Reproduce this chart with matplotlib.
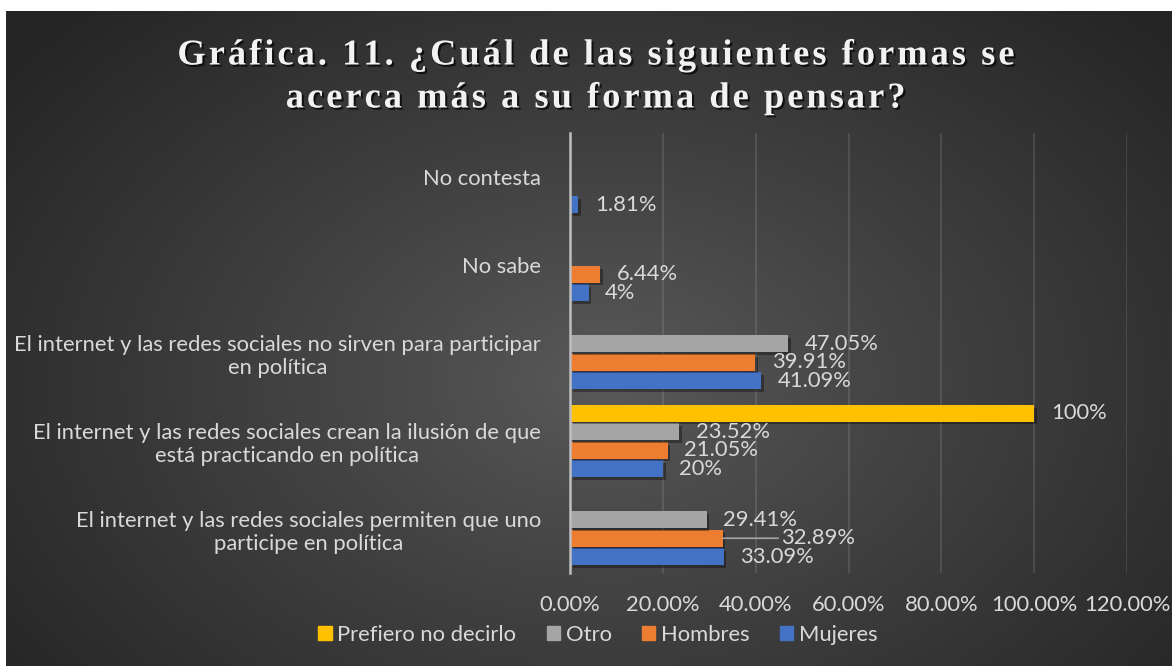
import numpy as np
import matplotlib
matplotlib.use("Agg")
import matplotlib.pyplot as plt
import matplotlib.patheffects as pe
from matplotlib.patches import Patch

# --- data ---
categories = [
    "El internet y las redes sociales permiten que uno\nparticipe en política",
    "El internet y las redes sociales crean la ilusión de que\nestá practicando en política",
    "El internet y las redes sociales no sirven para participar\nen política",
    "No sabe",
    "No contesta",
]
series_names = ["Mujeres", "Hombres", "Otro", "Prefiero no decirlo"]
mujeres = [33.09, 20, 41.09, 4, 1.81]
hombres = [32.89, 21.05, 39.91, 6.44, np.nan]
otro = [29.41, 23.52, 47.05, np.nan, np.nan]
prefiero = [np.nan, 100, np.nan, np.nan, np.nan]
x_ticks = [0, 20, 40, 60, 80, 100, 120]

title_lines = ["Gráfica. 11. ¿Cuál de las siguientes formas se",
               "acerca más a su forma de pensar?"]

# --- style ---
COLORS = ["#4472C4", "#ED7D31", "#A5A5A5", "#FFC000"]
TEXT = "#d9d9d9"
FONT = "Lato"
FS = 15.8
W, H = 1172, 666


def spaced(s):
    # fake Excel's expanded letter spacing with hair spaces
    return "\u200a".join(s)


fig = plt.figure(figsize=(W / 100, H / 100), dpi=100)
fig.patch.set_facecolor("white")

# radial gradient background
bg = fig.add_axes([6 / W, 0, 1 - 6 / W, 1 - 11 / H])
bg.set_axis_off()
yy, xx = np.mgrid[0:655, 0:1166]
cx, cy = 600, 370
r = np.sqrt(((xx - cx) / 760) ** 2 + ((yy - cy) / 520) ** 2)
r = np.clip(r, 0, 1)
light, dark = 0x5a / 255, 0x25 / 255
g = light + (dark - light) * r ** 0.9
bg.imshow(np.dstack([g, g, g]), aspect="auto", extent=(0, 1, 0, 1), origin="upper")
bg.set_xlim(0, 1)
bg.set_ylim(0, 1)

ax = fig.add_axes([570 / W, 1 - 573 / H, (1127 - 570) / W, (573 - 133) / H])
ax.patch.set_alpha(0)

y = np.arange(len(categories))
step = 0.21
bar_h = 0.19
shadow = [pe.SimplePatchShadow(offset=(2, -2), shadow_rgbFace="black", alpha=0.35), pe.Normal()]

all_series = [mujeres, hombres, otro, prefiero]
for i, (vals, name, color) in enumerate(zip(all_series, series_names, COLORS)):
    pos = y + (i - 1.5) * step
    vals = np.array(vals, dtype=float)
    bars = ax.barh(pos, vals, height=bar_h, color=color, label=name, zorder=3)
    for b in bars:
        b.set_path_effects(shadow)
    for p, v in zip(pos, vals):
        if np.isnan(v):
            continue
        lbl = f"{v:g}%"
        if name == "Hombres" and p < 0.5:
            # Excel moved this label out and drew a leader line
            ax.annotate(lbl, xy=(v, p), xytext=(42, 0), textcoords="offset points",
                        ha="left", va="center", color=TEXT, fontsize=FS, family=FONT,
                        arrowprops=dict(arrowstyle="-", color="#a6a6a6", lw=1.2,
                                        shrinkA=0, shrinkB=0, relpos=(0, 0.5)),
                        zorder=5)
        else:
            ax.annotate(lbl, xy=(v, p), xytext=(12, 0), textcoords="offset points",
                        ha="left", va="center", color=TEXT, fontsize=FS, family=FONT,
                        zorder=5)

ax.set_xlim(0, 120)
ax.set_ylim(-0.5, len(categories) - 0.5)
ax.set_xticks(x_ticks)
ax.set_xticklabels([f"{t:.2f}%" for t in x_ticks])
ax.set_yticks(y)
ax.set_yticklabels(categories, ha="right", multialignment="center")
ax.tick_params(axis="x", length=0, pad=16, labelsize=FS, labelcolor=TEXT)
ax.tick_params(axis="y", length=0, pad=21, labelsize=FS, labelcolor=TEXT)
for t in ax.get_xticklabels() + ax.get_yticklabels():
    t.set_family(FONT)

ax.grid(axis="x", color="white", alpha=0.13, lw=1.2, zorder=0)
ax.grid(axis="y", visible=False)
for s in ["top", "right", "bottom"]:
    ax.spines[s].set_visible(False)
ax.spines["left"].set_color("#bfbfbf")
ax.spines["left"].set_linewidth(1.8)
ax.spines["left"].set_zorder(4)

title_fx = [pe.withSimplePatchShadow(offset=(1.5, -1.5), shadow_rgbFace="black", alpha=0.7)]
for k, line in enumerate(title_lines):
    fig.text(595 / W, 1 - (56 + 43 * k) / H, spaced(line), ha="center", va="center",
             color="#f2f2f2", fontsize=26.2, fontweight="bold",
             family=["Liberation Serif", "DejaVu Serif"], path_effects=title_fx)

handles = [Patch(color=c) for c in reversed(COLORS)]
leg = fig.legend(handles, list(reversed(series_names)), loc="center", ncol=4,
                 bbox_to_anchor=(598 / W, 1 - 635 / H), frameon=False,
                 handlelength=0.6, handleheight=0.6, handletextpad=0.25,
                 columnspacing=1.4, prop={"family": FONT, "size": FS})
for t in leg.get_texts():
    t.set_color(TEXT)

fig.savefig("out.png", dpi=100)
